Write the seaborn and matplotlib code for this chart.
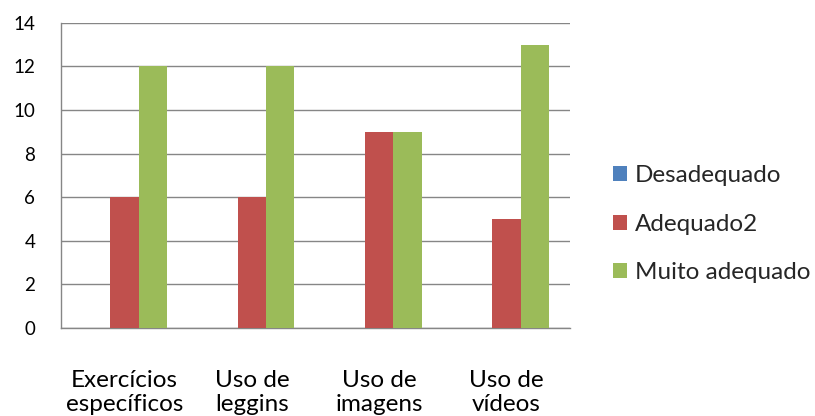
import matplotlib
matplotlib.use("Agg")
import matplotlib.pyplot as plt
import seaborn as sns
import pandas as pd
import numpy as np

categories = ["Exercícios\nespecíficos", "Uso de\nleggins", "Uso de\nimagens", "Uso de\nvídeos"]
series_names = ["Desadequado", "Adequado2", "Muito adequado"]
desadequado = [0, 0, 0, 0]
adequado2 = [6, 6, 9, 5]
muito_adequado = [12, 12, 9, 13]
colors = ["#4F81BD", "#C0504D", "#9BBB59"]
y_ticks = [0, 2, 4, 6, 8, 10, 12, 14]

rows = []
for name, vals in zip(series_names, [desadequado, adequado2, muito_adequado]):
    for cat, v in zip(categories, vals):
        rows.append({"categoria": cat, "serie": name, "valor": v})
df = pd.DataFrame(rows)

sns.set_style("white")
plt.rcParams["font.family"] = ["Lato", "DejaVu Sans"]

fig = plt.figure(figsize=(8.15, 4.16), dpi=100)
ax = fig.add_axes([0.0748, 0.2115, 0.6246, 0.7339])

sns.barplot(data=df, x="categoria", y="valor", hue="serie", order=categories,
            hue_order=series_names, palette=colors, width=0.667, saturation=1,
            edgecolor="none", linewidth=0, errorbar=None, ax=ax, zorder=3)

ax.set_ylim(0, 14)
ax.set_yticks(y_ticks)
ax.set_xlim(-0.5, len(categories) - 0.5)
ax.yaxis.grid(True, color="#868686", linewidth=1, zorder=0)
ax.set_axisbelow(True)
ax.set_xlabel("")
ax.set_ylabel("")

for side in ["top", "right"]:
    ax.spines[side].set_visible(False)
for side in ["left", "bottom"]:
    ax.spines[side].set_color("#868686")
    ax.spines[side].set_linewidth(1)

ax.tick_params(axis="y", length=6.5, width=1, color="#868686", labelsize=13.5,
               labelcolor="black", pad=12)
ax.tick_params(axis="x", which="major", length=0, labelsize=17.5,
               labelcolor="black", pad=30)
ax.set_xticks(np.arange(-0.5, len(categories), 1.0), minor=True)
ax.tick_params(axis="x", which="minor", length=5, width=1, color="#868686")
for lbl in ax.get_xticklabels():
    lbl.set_linespacing(1.18)

handles, labels = ax.get_legend_handles_labels()
ax.legend(handles, labels, loc="center left", bbox_to_anchor=(1.065, 0.34),
          frameon=False, fontsize=17.5, handlelength=0.58, handleheight=0.58,
          handletextpad=0.33, labelspacing=1.14, borderaxespad=0)

fig.savefig("out.png", dpi=100)
